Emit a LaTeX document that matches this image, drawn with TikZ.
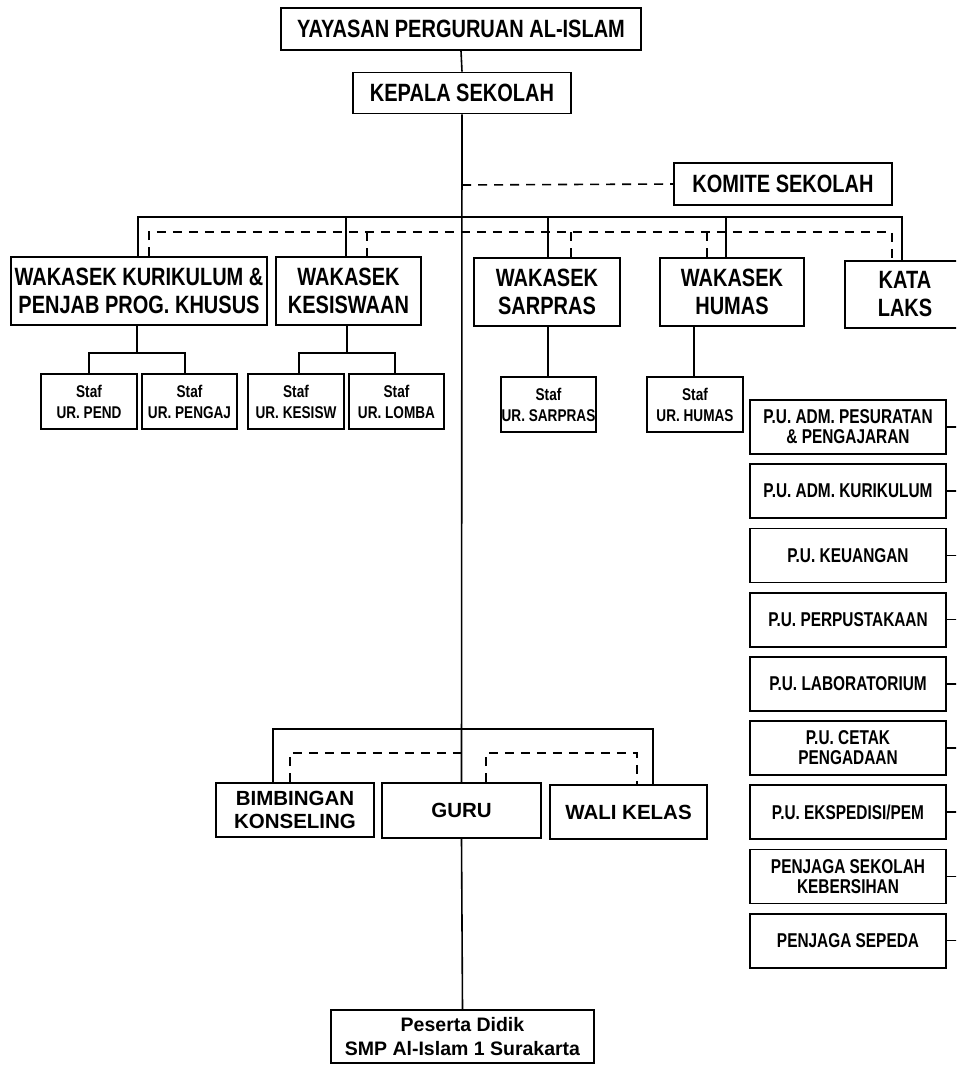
\documentclass[tikz,border=0pt]{standalone}
\usepackage{fontspec}
\setmainfont{Liberation Sans}
\newfontfamily\condfont[FakeStretch=0.8]{Liberation Sans}
\newfontfamily\narrowfont[FakeStretch=0.77]{Liberation Sans}
\begin{document}
\begin{tikzpicture}[x=1pt,y=-1pt,
  box/.style={draw,line width=1.8pt,rectangle,inner sep=0pt,align=center,text=black},
  topbox/.style={box,font=\condfont\bfseries\fontsize{25}{28}\selectfont},
  staffbox/.style={box,font=\condfont\bfseries\fontsize{17}{21}\selectfont,minimum height=55pt},
  pubox/.style={box,font=\narrowfont\bfseries\fontsize{20}{20}\selectfont,minimum width=196pt,minimum height=54pt},
  botbox/.style={box,font=\bfseries\fontsize{20.5}{23}\selectfont},
  link/.style={line width=1.6pt},
  dlink/.style={line width=1.6pt,dash pattern=on 9pt off 7pt}]
\clip (0,0) rectangle (956,1065);
\fill[white] (0,0) rectangle (956,1065);
% top
\node[topbox,minimum width=360pt,minimum height=42pt] (yay) at (461,29) {YAYASAN PERGURUAN AL-ISLAM};
\node[topbox,minimum width=218pt,minimum height=41pt] (kep) at (462,93) {KEPALA SEKOLAH};
\node[topbox,minimum width=218pt,minimum height=42pt] (kom) at (783,184) {KOMITE SEKOLAH};
% wakasek row
\node[topbox,minimum width=256pt,minimum height=68pt] (w1) at (139,291) {WAKASEK KURIKULUM \&\\PENJAB PROG. KHUSUS};
\node[topbox,minimum width=145pt,minimum height=68pt] (w2) at (348.5,291) {WAKASEK\\KESISWAAN};
\node[topbox,minimum width=146pt,minimum height=68pt] (w3) at (547,292) {WAKASEK\\SARPRAS};
\node[topbox,minimum width=144pt,minimum height=68pt] (w4) at (732,292) {WAKASEK\\HUMAS};
\node[topbox,minimum width=120pt,minimum height=67pt] (kata) at (905,294.5) {KATA\\LAKS};
% staff
\node[staffbox,minimum width=96pt] (s1) at (89,401.5) {Staf\\UR. PEND};
\node[staffbox,minimum width=95pt] (s2) at (189.5,401.5) {Staf\\UR. PENGAJ};
\node[staffbox,minimum width=96pt] (s3) at (296,401.5) {Staf\\UR. KESISW};
\node[staffbox,minimum width=95pt] (s4) at (396.5,401.5) {Staf\\UR. LOMBA};
\node[staffbox,minimum width=95pt] (s5) at (548.5,404.5) {Staf\\UR. SARPRAS};
\node[staffbox,minimum width=96pt] (s6) at (695,404.5) {Staf\\UR. HUMAS};
% P.U. column
\node[pubox] (pu1) at (848,427) {P.U. ADM. PESURATAN\\\& PENGAJARAN};
\node[pubox] (pu2) at (848,491.2) {P.U. ADM. KURIKULUM};
\node[pubox] (pu3) at (848,555.4) {P.U. KEUANGAN};
\node[pubox] (pu4) at (848,619.6) {P.U. PERPUSTAKAAN};
\node[pubox] (pu5) at (848,683.8) {P.U. LABORATORIUM};
\node[pubox] (pu6) at (848,748) {P.U. CETAK\\PENGADAAN};
\node[pubox] (pu7) at (848,812.2) {P.U. EKSPEDISI/PEM};
\node[pubox] (pu8) at (848,876.4) {PENJAGA SEKOLAH\\KEBERSIHAN};
\node[pubox] (pu9) at (848,940.6) {PENJAGA SEPEDA};
% bottom
\node[botbox,minimum width=158pt,minimum height=54pt] (bk) at (295,810) {BIMBINGAN\\KONSELING};
\node[botbox,minimum width=159pt,minimum height=55pt] (guru) at (461.5,810.5) {GURU};
\node[botbox,minimum width=157pt,minimum height=54pt] (wali) at (628.5,812) {WALI KELAS};
\node[botbox,font=\bfseries\fontsize{19.5}{24}\selectfont,minimum width=263pt,minimum height=53pt] (pd) at (462.5,1036.5) {Peserta Didik\\SMP Al-Islam 1 Surakarta};

\coordinate (edge) at (957,0);

% trunk
\draw[link] (yay.south) -- (kep.north);
\draw[link] (kep.south) -- (guru.north);
\draw[link] (guru.south) -- (pd.north);
% komite
\draw[dlink] (462,185) -- (kom.west);
% solid bus to wakasek
\draw[link] (w1.north -| 138,0) -- (138,217) -- (902,217) -- (kata.north -| 902,0);
\draw[link] (346,217) -- (w2.north -| 346,0);
\draw[link] (548,217) -- (w3.north -| 548,0);
\draw[link] (726,217) -- (w4.north -| 726,0);
% dashed bus
\draw[dlink] (w1.north -| 149,0) -- (149,232) -- (892,232) -- (kata.north -| 892,0);
\draw[dlink] (367,232) -- (w2.north -| 367,0);
\draw[dlink] (571,232) -- (w3.north -| 571,0);
\draw[dlink] (707,232) -- (w4.north -| 707,0);
% staff branches
\draw[link] (w1.south -| 137,0) -- (137,353);
\draw[link] (s1.north) -- (s1.north |- 0,353) -- (185,353) -- (s2.north -| 185,0);
\draw[link] (w2.south -| 347,0) -- (347,353);
\draw[link] (s3.north -| 299,0) -- (299,353) -- (395,353) -- (s4.north -| 395,0);
\draw[link] (w3.south -| 548,0) -- (s5.north -| 548,0);
\draw[link] (s6.north -| 694,0) -- (w4.south -| 694,0);
% P.U. stubs
\foreach \i in {1,...,9} {\draw[link] (pu\i.east) -- (pu\i.east -| edge);}
% bottom buses
\draw[link] (bk.north -| 273,0) -- (273,729) -- (653,729) -- (wali.north -| 653,0);
\draw[dlink] (bk.north -| 290,0) -- (290,753) -- (462,753);
\draw[dlink] (guru.north -| 486,0) -- (486,753) -- (637,753) -- (wali.north -| 637,0);
\end{tikzpicture}
\end{document}
